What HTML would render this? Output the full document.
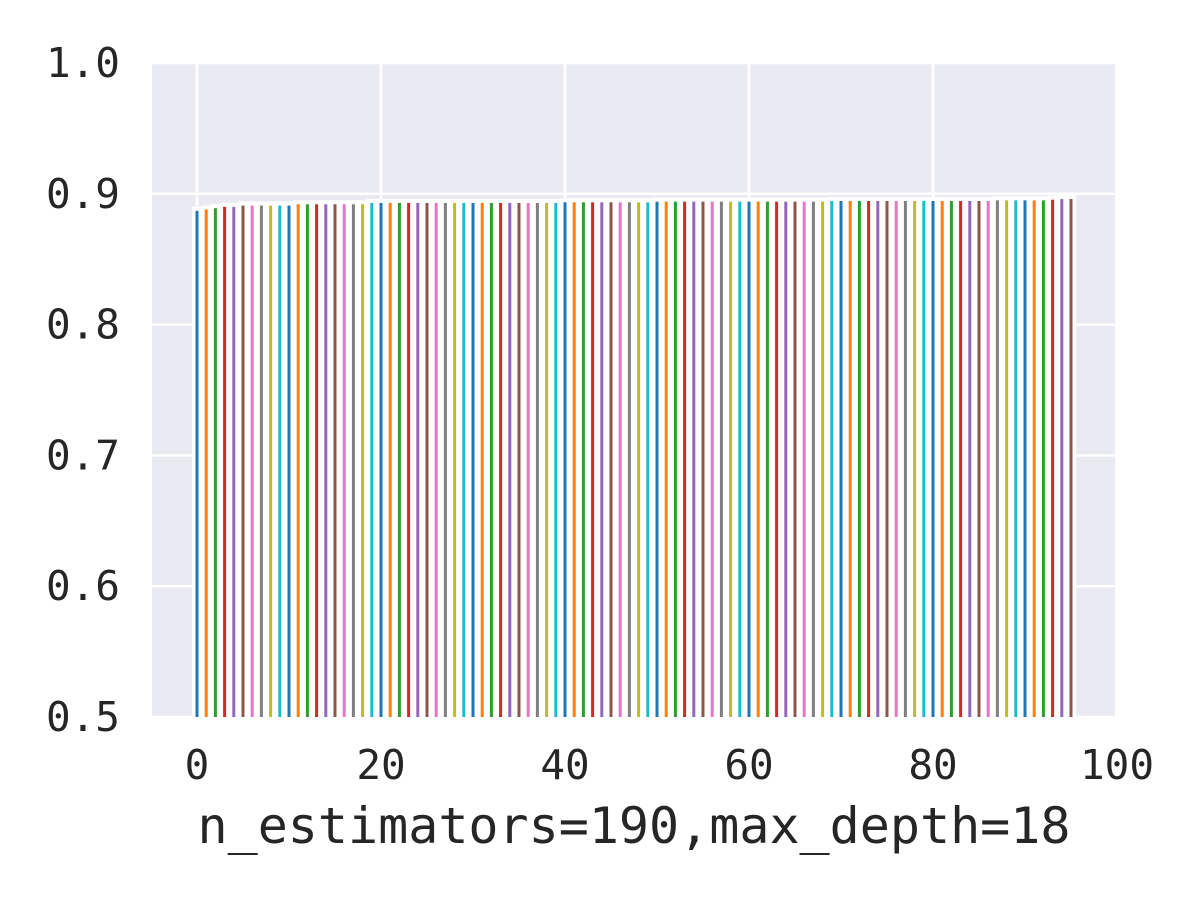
<!DOCTYPE html>
<html><head><meta charset="utf-8"><style>
body{margin:0;background:#fff;}
svg text{font-family:"DejaVu Sans Mono","Liberation Mono",monospace;fill:#262626;}
</style></head><body>
<svg id="chart" width="1200" height="900">
<rect x="152" y="63" width="963" height="654" fill="#eaeaf2"/>
<g id="grid"></g><g id="bars"></g><g id="ticks"></g>
<text x="634" y="843" font-size="50" text-anchor="middle">n_estimators=190,max_depth=18</text>
</svg>
<script>
const yTicks=[0.5,0.6,0.7,0.8,0.9,1.0];
const yTickLabels=["0.5","0.6","0.7","0.8","0.9","1.0"];
const xTicks=[0,20,40,60,80,100];
const xTickLabels=["0","20","40","60","80","100"];
const values=[0.887,0.888,0.889,0.890,0.890,0.891,0.891,0.891,0.891,0.891,
0.891,0.892,0.892,0.892,0.892,0.892,0.892,0.892,0.892,0.893,
0.893,0.893,0.893,0.893,0.893,0.893,0.893,0.893,0.893,0.893,
0.893,0.893,0.893,0.893,0.893,0.893,0.893,0.893,0.893,0.893,
0.8935,0.8935,0.8935,0.8935,0.8935,0.8935,0.8935,0.8935,0.8935,0.8935,
0.894,0.894,0.894,0.894,0.894,0.894,0.894,0.894,0.894,0.894,
0.894,0.894,0.894,0.894,0.894,0.894,0.894,0.894,0.894,0.8945,
0.8945,0.8945,0.8945,0.8945,0.8945,0.8945,0.8945,0.8945,0.8945,0.8945,
0.8945,0.8945,0.8945,0.8945,0.8945,0.8945,0.8945,0.895,0.895,0.895,
0.895,0.895,0.895,0.8955,0.896,0.896];
const colors=["#1f77b4","#ff7f0e","#2ca02c","#d62728","#9467bd","#8c564b","#e377c2","#7f7f7f","#bcbd22","#17becf"];
const NS="http://www.w3.org/2000/svg";
const X=v=>197+v*9.2, Y=v=>717-(v-0.5)*1308;
function mk(t,a,p){const e=document.createElementNS(NS,t);for(const k in a)e.setAttribute(k,a[k]);p.appendChild(e);return e;}
const grid=document.getElementById('grid'),bars=document.getElementById('bars'),ticks=document.getElementById('ticks');
yTicks.forEach((v,i)=>{
 const l=mk('line',{x1:152,x2:1115,y1:Y(v),y2:Y(v),stroke:'#fff','stroke-width':2.5},grid);
 
 
 const t=mk('text',{x:120,y:Y(v)+14,'font-size':41,'text-anchor':'end'},ticks);t.textContent=yTickLabels[i];
 
 
});
xTicks.forEach((v,i)=>{
 if(X(v)<1115){const l=mk('line',{x1:X(v),x2:X(v),y1:63,y2:717,stroke:'#fff','stroke-width':2.5},grid);
 
 }
 const t=mk('text',{x:X(v),y:779,'font-size':41,'text-anchor':'middle'},ticks);t.textContent=xTickLabels[i];
 
 
});
values.forEach((v,i)=>{
 const w=mk('rect',{x:X(i)-5,y:Y(v)-4,width:10.2,height:717-Y(v)+4,fill:'#fff'},bars);
 
 
});
values.forEach((v,i)=>{
 const b=mk('rect',{x:X(i)-1.5,y:Y(v),width:3,height:717-Y(v),fill:colors[i%10]},bars);
 
 
});
</script>
</body></html>
